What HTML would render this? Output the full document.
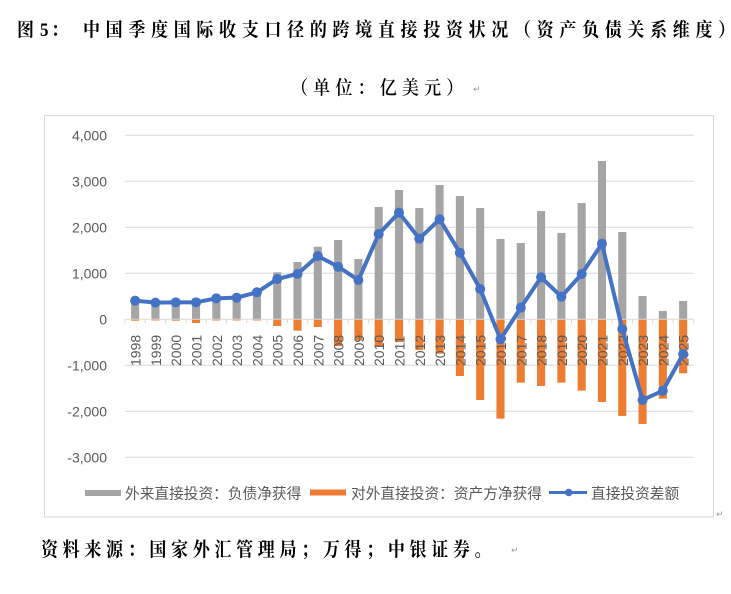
<!DOCTYPE html>
<html><head><meta charset="utf-8"><style>
html,body{margin:0;padding:0;background:#fff;}
svg{display:block;}
</style></head><body>
<svg width="731" height="594" viewBox="0 0 731 594" xmlns="http://www.w3.org/2000/svg">
<rect width="731" height="594" fill="#fff"/>
<!-- Title -->
<g font-family="'Liberation Serif','Noto Serif CJK SC',serif" font-weight="700" fill="#000" font-size="17" transform="translate(0,36) scale(1,1.12) translate(0,-36)">
<text x="17" y="36">图</text>
<text x="40" y="36">5</text>
<text x="51" y="36">：</text>
<text x="83" y="36" letter-spacing="5.7">中国季度国际收支口径的跨境直接投资状况（资产负债关系维度）</text>
</g>
<text x="291" y="94" font-family="'Liberation Serif','Noto Serif CJK SC',serif" font-weight="600" font-size="17" letter-spacing="5.2" fill="#000" transform="translate(0,94) scale(1,1.12) translate(0,-94)">（单位：亿美元）</text>
<text x="473" y="92" font-family="'Liberation Sans','DejaVu Sans',sans-serif" font-size="9" fill="#999">↵</text>

<!-- Chart frame -->
<rect x="44.5" y="115.5" width="669" height="401.5" fill="#fff" stroke="#d9d9d9" stroke-width="1"/>
<text x="716" y="517" font-family="'Liberation Sans','DejaVu Sans',sans-serif" font-size="9" fill="#999">↵</text>

<g id="chart"></g>

<!-- Source -->
<text x="41" y="556" font-family="'Liberation Serif','Noto Serif CJK SC',serif" font-weight="700" font-size="17" letter-spacing="4.7" fill="#000" transform="translate(0,556) scale(1,1.15) translate(0,-556)">资料来源：国家外汇管理局；万得；中银证券。</text>
<text x="511" y="553" font-family="'Liberation Sans','DejaVu Sans',sans-serif" font-size="9" fill="#999">↵</text>
</svg>
<script>
(function(){
var NS="http://www.w3.org/2000/svg";
var g=document.getElementById("chart");
function el(n,a,t){var e=document.createElementNS(NS,n);for(var k in a)e.setAttribute(k,a[k]);if(t!==undefined)e.textContent=t;g.appendChild(e);return e;}
var x0=125,x1=693.3,n=28,cw=(x1-x0)/n;
function Y(v){return 319.3-v*0.046;}
function CX(i){return x0+cw*(i+0.5);}
var ticks=[4000,3000,2000,1000,0,-1000,-2000,-3000];
var labs=["4,000","3,000","2,000","1,000","0","-1,000","-2,000","-3,000"];
for(var t=0;t<ticks.length;t++){
  var y=Y(ticks[t]);
  if(ticks[t]!==0) el("line",{x1:x0,x2:x1,y1:y,y2:y,stroke:"#d9d9d9","stroke-width":1});
  el("text",{x:107,y:y+5,"text-anchor":"end","font-family":"'Liberation Sans',sans-serif","font-size":14,fill:"#595959"},labs[t]);
}
var gray=[435,387,399,449,481,495,612,1022,1246,1578,1724,1311,2441,2811,2420,2920,2680,2420,1746,1659,2355,1877,2528,3441,1898,507,181,398];
var orange=[-30,-25,-30,-80,-25,-25,-25,-146,-247,-167,-580,-457,-587,-493,-667,-746,-1233,-1754,-2160,-1377,-1449,-1377,-1551,-1797,-2101,-2275,-1725,-1174];
var line=[405,362,369,369,456,470,587,876,985,1376,1144,854,1854,2318,1753,2174,1448,659,-435,253,913,492,985,1644,-211,-1754,-1552,-754];
var bw=8.1,z=Y(0);
for(var i=0;i<n;i++){
  var cx=CX(i);
  var gy=Y(gray[i]);
  el("rect",{x:cx-bw/2,y:gy,width:bw,height:z-gy,fill:"#A5A5A5"});
  var oy=Y(orange[i]);
  el("rect",{x:cx-bw/2,y:z,width:bw,height:oy-z,fill:"#ED7D31"});
}
el("line",{x1:x0,x2:x1,y1:z,y2:z,stroke:"#d9d9d9","stroke-width":1});
for(var i=0;i<=n;i++){
  var tx=x0+cw*i;
  el("line",{x1:tx,x2:tx,y1:z,y2:z+4,stroke:"#d9d9d9","stroke-width":1});
}
for(var i=0;i<n;i++){
  var cx=CX(i)+5.5;
  el("text",{transform:"translate("+cx+",366) rotate(-90)","font-family":"'Liberation Sans',sans-serif","font-size":14,fill:"#595959"},String(1998+i));
}
var pts=[];
for(var i=0;i<n;i++)pts.push(CX(i).toFixed(2)+","+Y(line[i]).toFixed(2));
el("polyline",{points:pts.join(" "),fill:"none",stroke:"#4472C4","stroke-width":4,"stroke-linejoin":"round"});
for(var i=0;i<n;i++)el("circle",{cx:CX(i),cy:Y(line[i]),r:5,fill:"#4472C4"});
var lf="'Liberation Sans','Noto Sans CJK SC',sans-serif";
el("rect",{x:85,y:490,width:36,height:6,fill:"#A5A5A5"});
el("text",{x:125,y:498.5,"font-family":lf,"font-size":14.7,fill:"#595959"},"外来直接投资：负债净获得");
el("rect",{x:310,y:489.5,width:36,height:6,fill:"#ED7D31"});
el("text",{x:351,y:498.5,"font-family":lf,"font-size":14.7,fill:"#595959"},"对外直接投资：资产方净获得");
el("line",{x1:549,x2:587,y1:492.5,y2:492.5,stroke:"#4472C4","stroke-width":3});
el("circle",{cx:568.7,cy:492.5,r:3.8,fill:"#4472C4"});
el("text",{x:591,y:498.5,"font-family":lf,"font-size":14.7,fill:"#595959"},"直接投资差额");
})();
</script>
</body></html>
